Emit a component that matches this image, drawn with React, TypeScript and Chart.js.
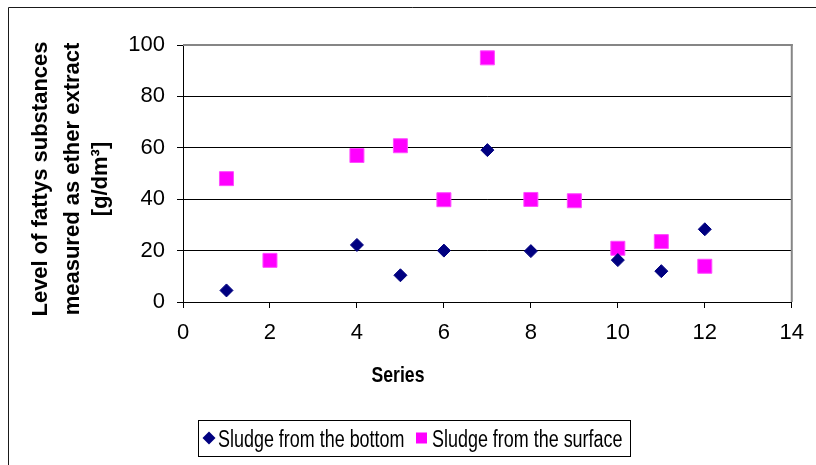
import React, { useEffect, useRef } from "react";
import { Chart, registerables } from "chart.js";

Chart.register(...registerables);

// Measured fat content (ether extract) per sample series
const bottomSeries = [1, 4, 5, 6, 7, 8, 10, 11, 12];
const bottomValues = [4.5, 22.2, 10.4, 20.0, 59.1, 19.8, 16.3, 12.0, 28.3];

const surfaceSeries = [1, 2, 4, 5, 6, 7, 8, 9, 10, 11, 12];
const surfaceValues = [48.0, 16.2, 57.0, 60.8, 39.8, 95.0, 39.9, 39.4, 20.9, 23.5, 13.9];

const xTickValues = [0, 2, 4, 6, 8, 10, 12, 14];
const yTickValues = [0, 20, 40, 60, 80, 100];

const bottomLabel = "Sludge from the bottom";
const surfaceLabel = "Sludge from the surface";
const xTitle = "Series";
const yTitleLines = ["Level of fattys substances", "measured as ether extract", "[g/dm³]"];

const FONT = "'Liberation Sans', Arial, Helvetica, sans-serif";
const NAVY = "#000080";
const MAGENTA = "#ff00ff";

const decorations = {
  id: "decorations",
  beforeDatasetsDraw(chart: any) {
    const { ctx, chartArea } = chart;
    ctx.save();
    // grey frame on top and right of the plot area
    ctx.fillStyle = "#868686";
    ctx.fillRect(chartArea.left, chartArea.top - 1, chartArea.right - chartArea.left + 1, 2);
    ctx.fillRect(chartArea.right - 1, chartArea.top - 1, 2, chartArea.bottom - chartArea.top + 1);
    ctx.restore();
  },
  afterDraw(chart: any) {
    const { ctx } = chart;
    ctx.save();

    // outer chart frame
    ctx.strokeStyle = "#1a1a1a";
    ctx.lineWidth = 1;
    ctx.beginPath();
    ctx.moveTo(8.5, 470);
    ctx.lineTo(8.5, 7.5);
    ctx.lineTo(820, 7.5);
    ctx.stroke();

    ctx.fillStyle = "#000";

    // y-axis title, three rotated lines
    ctx.font = `bold 22px ${FONT}`;
    ctx.textAlign = "center";
    ctx.textBaseline = "alphabetic";
    const baselines = [47, 79, 107];
    yTitleLines.forEach((line, i) => {
      ctx.save();
      ctx.translate(baselines[i], 179);
      ctx.rotate(-Math.PI / 2);
      ctx.fillText(line, 0, 0);
      ctx.restore();
    });

    // x-axis title
    ctx.save();
    ctx.font = `bold 22px ${FONT}`;
    ctx.translate(398, 382);
    ctx.scale(0.8, 1);
    ctx.textAlign = "center";
    ctx.fillText(xTitle, 0, 0);
    ctx.restore();

    // legend box
    ctx.strokeStyle = "#000";
    ctx.lineWidth = 1;
    ctx.strokeRect(198.5, 420.5, 432, 36);

    // legend marker: diamond
    ctx.fillStyle = NAVY;
    ctx.beginPath();
    ctx.moveTo(209, 431.5);
    ctx.lineTo(215.5, 438);
    ctx.lineTo(209, 444.5);
    ctx.lineTo(202.5, 438);
    ctx.closePath();
    ctx.fill();

    // legend marker: square
    ctx.fillStyle = MAGENTA;
    ctx.fillRect(416, 432.5, 11, 11);

    ctx.fillStyle = "#000";
    ctx.font = `23px ${FONT}`;
    ctx.textAlign = "left";
    [
      { text: bottomLabel, x: 218 },
      { text: surfaceLabel, x: 432 },
    ].forEach(({ text, x }) => {
      ctx.save();
      ctx.translate(x, 446.5);
      ctx.scale(0.78, 1);
      ctx.fillText(text, 0, 0);
      ctx.restore();
    });

    ctx.restore();
  },
};

export default function App() {
  const canvasRef = useRef<HTMLCanvasElement | null>(null);

  useEffect(() => {
    const canvas = canvasRef.current;
    if (!canvas) return;

    const chart = new Chart(canvas, {
      type: "scatter",
      data: {
        datasets: [
          {
            label: bottomLabel,
            data: bottomSeries.map((x, i) => ({ x, y: bottomValues[i] })),
            pointStyle: "rectRot",
            pointRadius: 6.5,
            borderWidth: 1,
            backgroundColor: NAVY,
            borderColor: NAVY,
          },
          {
            label: surfaceLabel,
            data: surfaceSeries.map((x, i) => ({ x, y: surfaceValues[i] })),
            pointStyle: "rect",
            pointRadius: 9.9,
            borderWidth: 1,
            backgroundColor: MAGENTA,
            borderColor: "#ff4cff",
          },
        ],
      },
      plugins: [decorations],
      options: {
        animation: false,
        responsive: false,
        events: [],
        layout: { padding: { left: 0, top: 45, right: 23, bottom: 0 } },
        plugins: {
          legend: { display: false },
          tooltip: { enabled: false },
          title: { display: false },
        },
        scales: {
          x: {
            type: "linear",
            min: 0,
            max: 14,
            afterBuildTicks: (scale: any) => {
              scale.ticks = xTickValues.map((value) => ({ value }));
            },
            afterFit: (scale: any) => {
              scale.height = 163;
            },
            grid: {
              drawOnChartArea: false,
              drawTicks: true,
              tickLength: 6,
              color: "#000",
              lineWidth: 1,
            },
            border: { display: true, color: "#000", width: 1 },
            ticks: {
              color: "#000",
              font: { family: FONT, size: 22 },
              padding: 12,
              maxRotation: 0,
              autoSkip: false,
            },
          },
          y: {
            type: "linear",
            min: 0,
            max: 100,
            afterBuildTicks: (scale: any) => {
              scale.ticks = yTickValues.map((value) => ({ value }));
            },
            afterFit: (scale: any) => {
              scale.width = 183;
            },
            grid: {
              color: (ctx: any) => (ctx.tick && ctx.tick.value === 100 ? "rgba(0,0,0,0)" : "#000"),
              tickColor: "#000",
              lineWidth: 1,
              drawTicks: true,
              tickLength: 6,
            },
            border: { display: true, color: "#000", width: 1 },
            ticks: {
              color: "#000",
              font: { family: FONT, size: 22 },
              padding: 12,
              autoSkip: false,
            },
          },
        },
      } as any,
    });

    return () => chart.destroy();
  }, []);

  return (
    <div style={{ position: "fixed", left: 0, top: 0, width: 816, height: 465, background: "#fff" }}>
      <canvas ref={canvasRef} width={816} height={465} style={{ display: "block" }} />
    </div>
  );
}
